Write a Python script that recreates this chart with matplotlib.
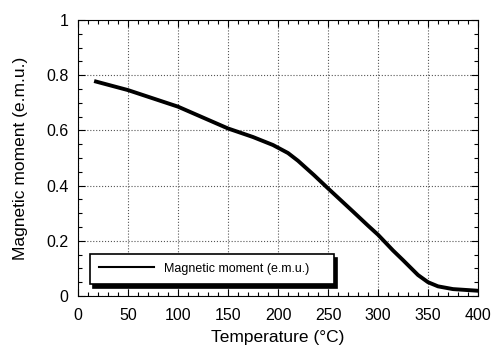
import numpy as np
import matplotlib.pyplot as plt
from matplotlib.ticker import MultipleLocator

plt.rcParams['font.family'] = ['Liberation Sans', 'DejaVu Sans']

# values
temperature = [18, 50, 100, 150, 175, 195, 210, 220, 236, 250, 275, 290, 300,
               315, 325, 340, 350, 360, 375, 400]
moment = [0.777, 0.746, 0.686, 0.607, 0.576, 0.547, 0.518, 0.49, 0.438, 0.39,
          0.306, 0.255, 0.222, 0.165, 0.13, 0.076, 0.05, 0.035, 0.025, 0.019]

fig = plt.figure(figsize=(4.95, 3.49), dpi=100)
ax = fig.add_axes([78 / 495, 53 / 349, 400 / 495, 276 / 349])

ax.plot(temperature, moment, color='black', lw=2.8, solid_joinstyle='round',
        label='Magnetic moment (e.m.u.)')

ax.set_xlim(0, 400)
ax.set_ylim(0, 1)
ax.xaxis.set_major_locator(MultipleLocator(50))
ax.xaxis.set_minor_locator(MultipleLocator(10))
ax.set_yticks([0, 0.2, 0.4, 0.6, 0.8, 1])
ax.set_yticklabels(['0', '0.2', '0.4', '0.6', '0.8', '1'])
ax.yaxis.set_minor_locator(MultipleLocator(0.05))
ax.tick_params(which='both', direction='in', top=True, right=True, labelsize=11.5, width=0.8)
ax.tick_params(which='major', length=5)
ax.tick_params(axis='x', which='major', pad=9)
ax.tick_params(axis='y', which='major', pad=7)
ax.tick_params(which='minor', length=3)
ax.grid(True, which='major', color='#555555', ls=':', lw=0.8)

ax.set_xlabel('Temperature (°C)', fontsize=12.5, labelpad=5)
ax.set_ylabel('Magnetic moment (e.m.u.)', fontsize=12.5, labelpad=13)

leg = ax.legend(loc='lower left', bbox_to_anchor=(0.03, 0.045, 0.61, 0.11), mode='expand',
                borderaxespad=0, fancybox=False, edgecolor='black', framealpha=1,
                fontsize=9, handlelength=4.4, borderpad=0.7,
                shadow={'ox': 2, 'oy': -3, 'color': 'black', 'alpha': 1})
leg.get_frame().set_linewidth(1.2)
leg.get_lines()[0].set_linewidth(1.5)

fig.savefig('out.png')
